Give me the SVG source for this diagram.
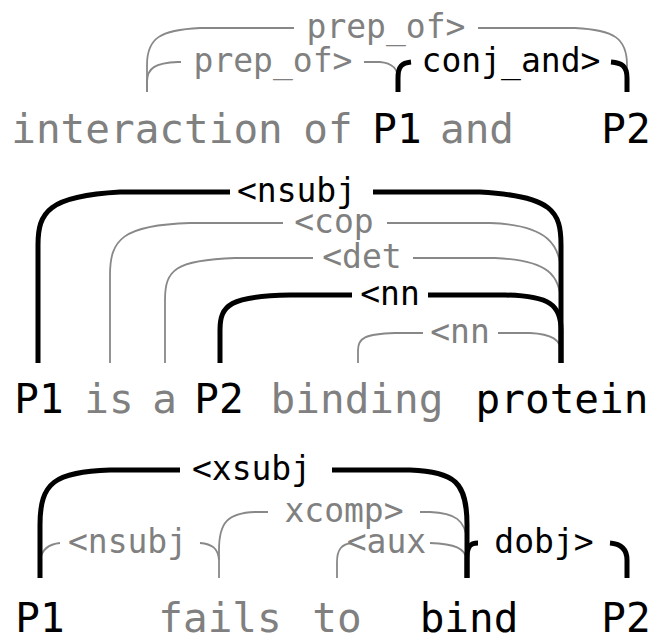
<svg xmlns="http://www.w3.org/2000/svg" width="653" height="635" viewBox="0 0 653 635">
<style>
text{font-family:"DejaVu Sans Mono","Liberation Mono",monospace;text-anchor:middle}
.w{font-size:41px}
.l{font-size:33px}
.k{fill:#000}
.g{fill:#808080}
.ab{fill:none;stroke:#000;stroke-width:5}
.ag{fill:none;stroke:#888;stroke-width:1.8}
</style>
<rect width="653" height="635" fill="#fff"/>
<g id="connectors">
  <!-- sentence 1 -->
  <g id="e-prep_of-outer"><path class="ag" d="M147,92 V65 C147,38 160,30 200,28 H294 M478,28 H575 C614,30 627,38 627,65 V92"/><text class="l g" x="386" y="38">prep_of&gt;</text></g>
  <g id="e-prep_of-inner"><path class="ag" d="M147,92 V82 C147,68 155,63 178,62 H181 M364,62 H380 C392,63 398,68 398,80 V92"/><text class="l g" x="273" y="72">prep_of&gt;</text></g>
  <g id="e-conj_and"><path class="ab" d="M398,92 V78 C398,66 402,63 411,62 M611,62 C622,63 627,66 627,78 V92"/><text class="l k" x="511" y="72">conj_and&gt;</text></g>
  <!-- sentence 2 -->
  <g id="e-cop"><path class="ag" d="M110,363 V275 C110,240 122,225 190,223 H283 M387,223 H490 C548,225 561,245 561,275 V363"/><text class="l g" x="334" y="233">&lt;cop</text></g>
  <g id="e-det"><path class="ag" d="M165,363 V300 C165,270 175,260 235,258 H313 M413,258 H495 C548,260 561,275 561,305 V363"/><text class="l g" x="362" y="268">&lt;det</text></g>
  <g id="e-nn2"><path class="ag" d="M358,363 V350 C358,338 365,334 395,333 H423 M498,333 H530 C552,334 561,340 561,352 V363"/><text class="l g" x="460" y="343">&lt;nn</text></g>
  <g id="e-nsubj2"><path class="ab" d="M38,363 V245 C38,212 48,196 120,192 H230 M373,192 H480 C553,196 561,212 561,245 V363"/><text class="l k" x="296.5" y="202">&lt;nsubj</text></g>
  <g id="e-nn1"><path class="ab" d="M220,363 V330 C220,305 230,296 290,295 H352 M428,295 H505 C550,296 561,305 561,330 V363"/><text class="l k" x="390" y="305">&lt;nn</text></g>
  <!-- sentence 3 -->
  <g id="e-xcomp"><path class="ag" d="M219,578 V550 C219,522 228,513 255,512 H268 M420,512 H430 C455,513 465,520 467,540 V578"/><text class="l g" x="344" y="522">xcomp&gt;</text></g>
  <g id="e-nsubj3"><path class="ag" d="M40,560 C42,548 50,544 60,543 M200,543 C212,544 218,548 219,560"/><text class="l g" x="127.5" y="553">&lt;nsubj</text></g>
  <g id="e-aux"><path class="ag" d="M337,578 V562 C337,549 342,544 352,543 M430,543 C455,544 465,548 467,560"/><text class="l g" x="386.5" y="553">&lt;aux</text></g>
  <g id="e-xsubj"><path class="ab" d="M40,578 V525 C40,482 55,472 110,470 H180 M332,470 H410 C455,472 467,482 467,525 V578"/><text class="l k" x="251.5" y="480">&lt;xsubj</text></g>
  <g id="e-dobj"><path class="ab" d="M467,578 V558 C467,547 470,543 478,543 M610,543 C622,544 627,550 627,560 V578"/><text class="l k" x="544" y="553">dobj&gt;</text></g>
</g>
<g id="s1-interaction"><text class="w g" x="147" y="143">interaction</text></g>
<g id="s1-of"><text class="w g" x="328" y="143">of</text></g>
<g id="s1-P1"><text class="w k" x="397" y="143">P1</text></g>
<g id="s1-and"><text class="w g" x="477" y="143">and</text></g>
<g id="s1-P2"><text class="w k" x="626" y="143">P2</text></g>
<g id="s2-P1"><text class="w k" x="39" y="413">P1</text></g>
<g id="s2-is"><text class="w g" x="109" y="413">is</text></g>
<g id="s2-a"><text class="w g" x="164.5" y="413">a</text></g>
<g id="s2-P2"><text class="w k" x="219" y="413">P2</text></g>
<g id="s2-binding"><text class="w g" x="357" y="413">binding</text></g>
<g id="s2-protein"><text class="w k" x="562" y="413">protein</text></g>
<g id="s3-P1"><text class="w k" x="40" y="632">P1</text></g>
<g id="s3-fails"><text class="w g" x="220" y="632">fails</text></g>
<g id="s3-to"><text class="w g" x="337" y="632">to</text></g>
<g id="s3-bind"><text class="w k" x="469" y="632">bind</text></g>
<g id="s3-P2"><text class="w k" x="626" y="632">P2</text></g>
</svg>
